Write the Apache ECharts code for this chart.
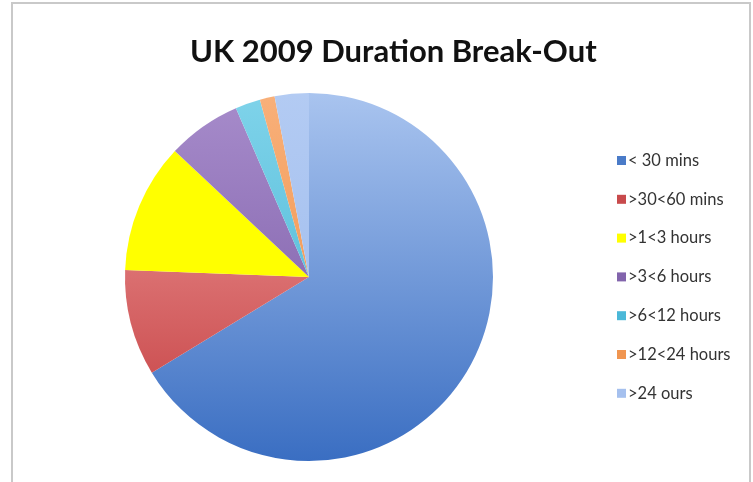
<!DOCTYPE html>
<html lang="en">
<head>
    <meta charset="UTF-8">
    <title>UK 2009 Duration Break-Out</title>
    <script src="https://cdn.jsdelivr.net/npm/echarts@6/dist/echarts.min.js"></script>
    <style>
        html, body { margin: 0; padding: 0; background: #fff; }
        #main { width: 753px; height: 482px; }
    </style>
</head>
<body>
<div id="main"></div>
<script type="text/javascript">
    // data (share of calls, %)
    var categories = ['< 30 mins', '>30<60 mins', '>1<3 hours', '>3<6 hours', '>6<12 hours', '>12<24 hours', '>24 ours'];
    var shares = [66.3, 9.3, 11.4, 6.5, 2.2, 1.3, 3.0];
    // top / bottom colour of each slice (Excel style shading)
    var topColors = ['#a9c4ef', '#f2a2a2', '#ffff00', '#a78ccb', '#7fd3ea', '#f8b07a', '#b3cbf3'];
    var bottomColors = ['#3a6ec2', '#c23a3c', '#ffff00', '#7453a0', '#3fb0d0', '#ee8a3e', '#9ab8ec'];
    var legendColors = ['#4a7bc8', '#c84a4c', '#ffff00', '#8264ac', '#4bb8d8', '#f09550', '#a5c0ee'];

    var cx = 309, cy = 277, r = 184;

    var myChart = echarts.init(document.getElementById('main'));

    var pieData = [];
    for (var i = 0; i < categories.length; i++) {
        pieData.push({
            name: categories[i],
            value: shares[i],
            itemStyle: {
                color: new echarts.graphic.LinearGradient(0, cy - r, 0, cy + r, [
                    { offset: 0, color: topColors[i] },
                    { offset: 1, color: bottomColors[i] }
                ], true)
            }
        });
    }

    var legendData = categories.map(function (c, i) {
        return { name: c, itemStyle: { color: legendColors[i] } };
    });

    var option = {
        backgroundColor: '#fff',
        animation: false,
        title: {
            text: 'UK 2009 Duration Break-Out',
            left: 185,
            top: 31,
            textStyle: {
                fontFamily: 'Lato',
                fontWeight: 'bold',
                fontSize: 31,
                color: '#111'
            }
        },
        legend: {
            orient: 'vertical',
            left: 612,
            top: 147,
            itemWidth: 9,
            itemHeight: 9,
            itemGap: 21.8,
            icon: 'rect',
            data: legendData,
            textStyle: {
                fontFamily: 'Lato',
                fontSize: 16.5,
                lineHeight: 16,
                color: '#333',
                padding: [0, 0, 0, -3]
            }
        },
        graphic: [{
            type: 'rect',
            shape: { x: 12, y: 3, width: 738, height: 490 },
            style: { fill: null, stroke: '#c9c9c9', lineWidth: 2 },
            silent: true
        }],
        series: [{
            type: 'pie',
            center: [cx, cy],
            radius: [0, r],
            startAngle: 90,
            clockwise: true,
            label: { show: false },
            labelLine: { show: false },
            itemStyle: { borderWidth: 0 },
            emphasis: { disabled: true },
            data: pieData
        }]
    };
    myChart.setOption(option);
</script>
</body>
</html>
